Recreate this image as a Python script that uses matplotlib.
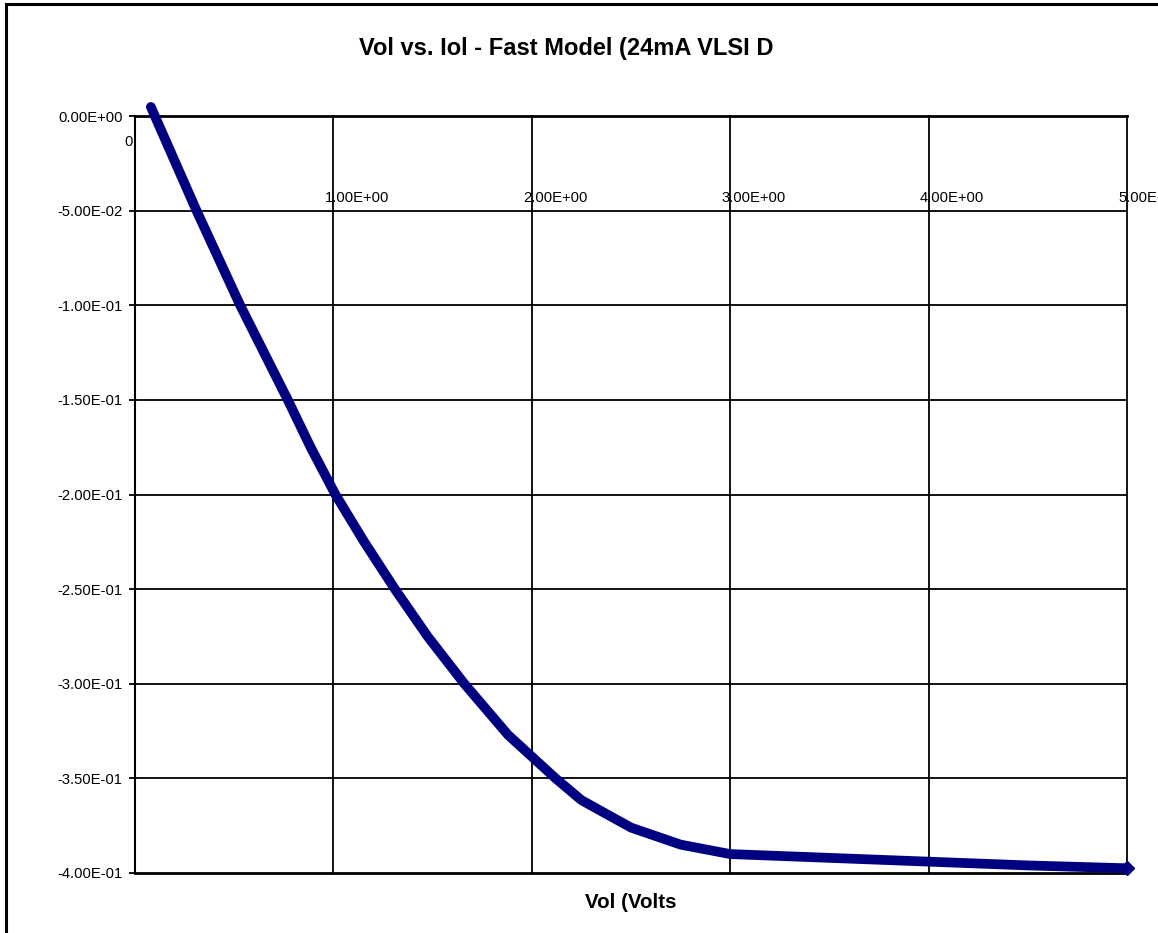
import matplotlib.pyplot as plt
from matplotlib.patches import Rectangle
from matplotlib.transforms import offset_copy

plt.rcParams['font.family'] = ['Liberation Sans', 'DejaVu Sans']

# Vol (V) vs Iol (A)
vol = [0.08, 0.10, 0.31, 0.53, 0.77, 0.885, 1.01, 1.155, 1.31, 1.475, 1.66, 1.88,
       2.12, 2.25, 2.5, 2.75, 3.0, 3.5, 4.0, 4.5, 5.0]
iol = [0.0048, 0.0, -0.05, -0.10, -0.15, -0.175, -0.20, -0.225, -0.25, -0.275, -0.30,
       -0.327, -0.35, -0.3615, -0.376, -0.385, -0.390, -0.392, -0.394, -0.396, -0.3975]

x_ticks = [0, 1, 2, 3, 4, 5]
x_tick_labels = ['0.00E+00', '1.00E+00', '2.00E+00', '3.00E+00', '4.00E+00', '5.00E+00']
y_ticks = [0.0, -0.05, -0.10, -0.15, -0.20, -0.25, -0.30, -0.35, -0.40]
y_tick_labels = ['0.00E+00', '-5.00E-02', '-1.00E-01', '-1.50E-01', '-2.00E-01',
                 '-2.50E-01', '-3.00E-01', '-3.50E-01', '-4.00E-01']

W, H = 1158, 933
fig = plt.figure(figsize=(W / 100, H / 100), dpi=100)
ax = fig.add_axes([135 / W, 1 - 873 / H, (1127 - 135) / W, (873 - 116) / H])

ax.set_xlim(0, 5)
ax.set_ylim(-0.4, 0.0)

# gridlines
for x in x_ticks[1:]:
    ax.axvline(x, color='black', lw=1.3, zorder=1, clip_on=False)
for y in y_ticks[1:-1]:
    ax.axhline(y, color='black', lw=1.3, zorder=1)

# the curve
ax.plot(vol, iol, color='#000080', lw=7, solid_joinstyle='round',
        solid_capstyle='round', clip_on=False, zorder=3)
ax.plot(vol[-1:], iol[-1:], marker='D', ms=7, color='#000080', clip_on=False, zorder=3)

# spines
ax.spines['right'].set_visible(False)
ax.spines['top'].set_linewidth(2)
ax.spines['bottom'].set_linewidth(2)
ax.spines['left'].set_linewidth(1.5)

ax.set_yticks(y_ticks)
ax.set_yticklabels(y_tick_labels, fontsize=10.6)
ax.tick_params(axis='y', direction='out', length=4, width=1.3, pad=5)
ax.set_xticks([])

# x tick labels sit just above the -0.05 gridline, starting a bit left of each gridline
tr = offset_copy(ax.transData, fig=fig, x=-9, y=0, units='dots')
for x, lab in zip(x_ticks[1:], x_tick_labels[1:]):
    ax.text(x, -0.0433, lab, transform=tr, ha='left', va='center',
            fontsize=10.6, clip_on=False, zorder=2)
ax.text(129 / W, 1 - 142 / H, '0', transform=fig.transFigure, ha='center',
        va='center', fontsize=10.6)

fig.text(566 / W, 1 - 48 / H, 'Vol vs. Iol - Fast Model (24mA VLSI D',
         ha='center', va='center', fontsize=17, fontweight='bold')
fig.text(631 / W, 1 - 903 / H, 'Vol (Volts', ha='center', va='center',
         fontsize=14.8, fontweight='bold')

# outer chart frame (cropped on the right and bottom)
fig.patches.append(Rectangle((6 / W, -0.1), 2, 1.1 - 4 / H, transform=fig.transFigure,
                             fill=False, edgecolor='black', lw=2.2, clip_on=False))

fig.savefig('out.png', dpi=100)
